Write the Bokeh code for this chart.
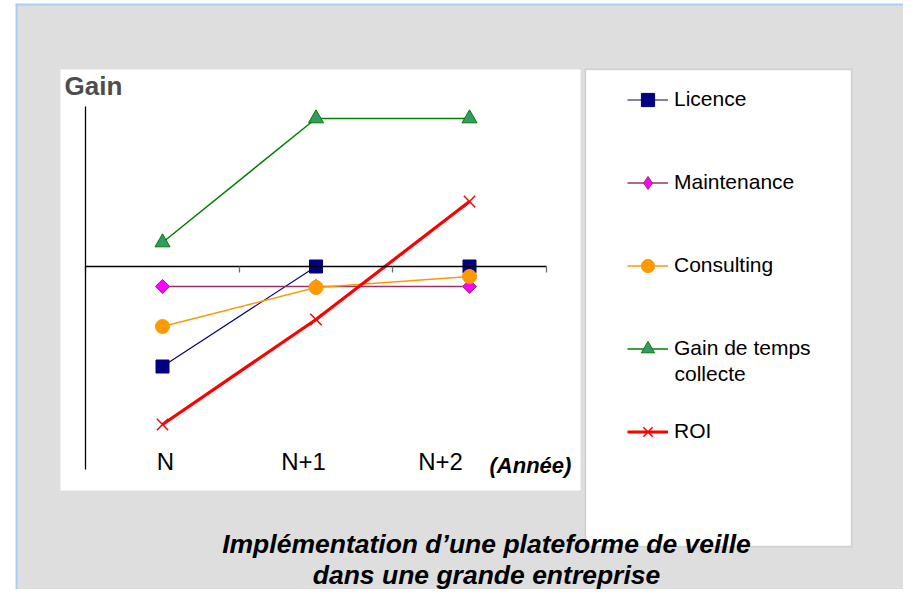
import math
from bokeh.plotting import figure
from bokeh.models import (Range1d, LinearAxis, FixedTicker, Legend, LegendItem,
                          BoxAnnotation, Span)
from bokeh.core.properties import value
from bokeh.embed import file_html
from bokeh.resources import INLINE

# ---------------- data ----------------
categories = ["N", "N+1", "N+2"]
licence = [-100, 0, 0]
maintenance = [-20, -20, -20]
consulting = [-60, -21, -10]
gain_temps = [24, 148, 148]
roi = [-158, -53, 65]
series_labels = ["Licence", "Maintenance", "Consulting", "Gain de temps", "ROI"]
label_continuation = "collecte"
y_axis_label = "Gain"
x_axis_label = "(Année)"
title_lines = ["Implémentation d\u2019une plateforme de veille", "dans une grande entreprise"]

# ---------------- layout (pixels of the picture) ----------------
FONT = "Liberation Sans"
W, H = 903, 589
FL, FT = 15, 3                 # frame left / top
FR, FB = W, H                  # frame right / bottom
X0_PX, DX_PX = 162.0, 153.5    # first category position, pixels per category
Y0_PX = 266.0                  # zero line position, 1 pixel per unit
BASE_K = 0.37                  # baseline correction (fraction of font size)


def X(px):
    return (px - X0_PX) / DX_PX


def Y(py):
    return Y0_PX - py


def YB(py, fs):
    """data y for a text whose alphabetic baseline should sit at pixel py"""
    return Y(py - BASE_K * fs)


p = figure(width=W, height=H, output_backend="svg", toolbar_location=None,
           x_axis_type=None, y_axis_type=None,
           x_range=Range1d(X(FL), X(FR)), y_range=Range1d(Y(FB), Y(FT)))
p.min_border = 0
p.min_border_left = FL
p.min_border_top = FT
p.background_fill_color = "#dedede"
p.border_fill_color = "white"
p.outline_line_color = None

# outer light-blue frame edges (left and top)
p.add_layout(Span(location=X(FL + 1), dimension="height", line_color="#a6cdf3", line_width=2))
p.add_layout(Span(location=Y(FT + 1), dimension="width", line_color="#a6cdf3", line_width=2))

# white chart area and legend box
p.add_layout(BoxAnnotation(left=X(60), right=X(580), top=Y(69), bottom=Y(490),
                           fill_color="white", fill_alpha=1, line_color=None, level="underlay"))
p.add_layout(BoxAnnotation(left=X(585), right=X(851), top=Y(69), bottom=Y(546),
                           fill_color="white", fill_alpha=1, line_color="#8c8c8c",
                           line_width=1.5, level="underlay"))

idx = list(range(len(categories)))
xb = (idx[0] - 0.5, idx[-1] + 0.5)

# horizontal axis on the zero line, ticks between categories
xticks = [i - 0.5 for i in idx] + [idx[-1] + 0.5]
xaxis = LinearAxis(fixed_location=0, bounds=xb, ticker=FixedTicker(ticks=xticks),
                   major_tick_out=6, major_tick_in=0, minor_tick_out=0, minor_tick_in=0,
                   major_label_overrides={t: "" for t in xticks},
                   major_label_text_font_size="0px",
                   axis_line_color="black", axis_line_width=1.3,
                   major_tick_line_color="#6e6e6e", major_tick_line_width=1.3)
p.add_layout(xaxis, "below")

# vertical axis
yaxis = LinearAxis(fixed_location=xb[0], bounds=(Y(469), Y(106)), ticker=FixedTicker(ticks=[]),
                   major_tick_out=0, major_tick_in=0, minor_tick_out=0, minor_tick_in=0,
                   major_label_text_font_size="0px",
                   axis_line_color="black", axis_line_width=1.3)
p.add_layout(yaxis, "left")

series = [licence, maintenance, consulting, gain_temps, roi]
styles = [
    dict(lc="#000080", lw=1.2, marker="square", size=13, fill="#000080", mline="#000080", angle=0, mlw=1, leg=None),
    dict(lc="#993366", lw=1.5, marker="square", size=10, fill="#ff00ff", mline="#993366", angle=math.pi / 4, mlw=1, leg="diamond"),
    dict(lc="#ff9900", lw=1.5, marker="circle", size=14, fill="#ff9900", mline="#ff9900", angle=0, mlw=1, leg=None),
    dict(lc="#008000", lw=1.5, marker="triangle", size=15, fill="#339966", mline="#008000", angle=0, mlw=1, leg=None),
    dict(lc="#ff0000", lw=3.2, marker="x", size=16, fill=None, mline="#ff0000", angle=0, mlw=1.5, leg=None),
]

items = []
for label, vals, st in zip(series_labels, series, styles):
    rl = p.line(idx, vals, line_color=st["lc"], line_width=st["lw"])
    rm = p.scatter(idx, vals, marker=st["marker"], size=st["size"], fill_color=st["fill"],
                   line_color=st["mline"], line_width=st["mlw"], angle=st["angle"])
    if st["leg"]:
        # hidden twin used only for the legend symbol (the legend does not rotate markers)
        rm = p.scatter(idx, vals, marker=st["leg"], size=st["size"], fill_color=st["fill"],
                       line_color=st["mline"], line_width=st["mlw"], visible=False)
    items.append(LegendItem(label=label, renderers=[rl, rm]))

LEG_ITEM_H, LEG_PITCH = 33, 83
LEG_TOP = 99 - LEG_ITEM_H / 2
LEG_BOTTOM = LEG_TOP + len(items) * LEG_ITEM_H + (len(items) - 1) * (LEG_PITCH - LEG_ITEM_H)
legend = Legend(items=items, location=(627 - FL, FB - LEG_BOTTOM), padding=0, margin=0,
                spacing=LEG_PITCH - LEG_ITEM_H,
                glyph_width=41, glyph_height=LEG_ITEM_H, label_height=LEG_ITEM_H, label_standoff=6,
                label_text_font=FONT, label_text_font_size="21px", label_text_color="black",
                border_line_color=None, background_fill_alpha=0)
p.add_layout(legend)

# second line of the "Gain de temps collecte" legend label
p.text(x=[X(674)], y=[YB(381, 21)], text=[label_continuation], text_font=value(FONT),
       text_font_size="21px", text_color="black", text_align="left", text_baseline="alphabetic")

# category labels (placed as in the original drawing)
cat_label_px = [165, 303, 440]
p.text(x=[X(v) for v in cat_label_px], y=[YB(470, 24)] * len(categories), text=categories,
       text_font=value(FONT), text_font_size="24px", text_align="center",
       text_baseline="alphabetic", text_color="black")

# axis titles
p.text(x=[X(64)], y=[YB(95, 26)], text=[y_axis_label], text_font=value(FONT), text_font_size="26px",
       text_font_style="bold", text_color="#4d4d4d", text_align="left", text_baseline="alphabetic")
p.text(x=[X(489)], y=[YB(473, 22)], text=[x_axis_label], text_font=value(FONT), text_font_size="22px",
       text_font_style="bold italic", text_color="black", text_align="left", text_baseline="alphabetic")

# chart title
p.text(x=[X(486)] * 2, y=[YB(553, 26.5), YB(584, 26.5)], text=title_lines, text_font=value(FONT),
       text_font_size="26.5px", text_font_style="bold italic", text_color="black",
       text_align="center", text_baseline="alphabetic")

open("out.html", "w").write(file_html(p, INLINE))
